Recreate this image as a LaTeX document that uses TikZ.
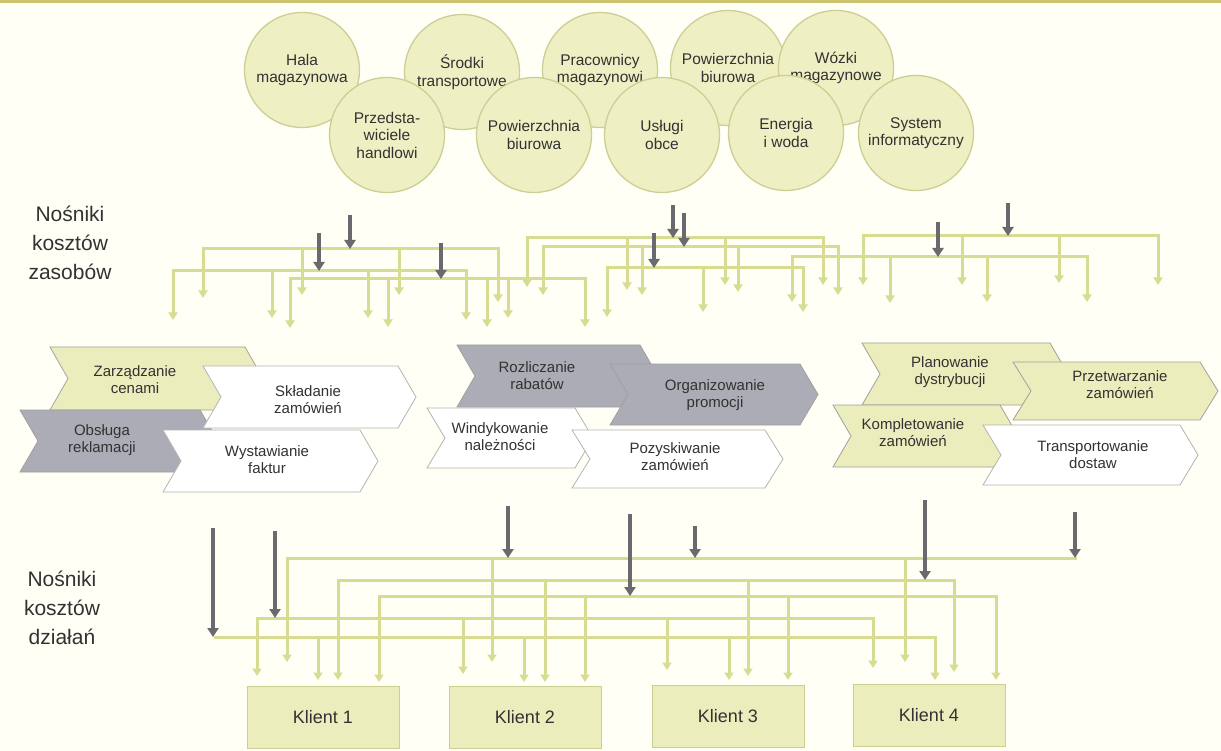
\documentclass[tikz,border=0pt]{standalone}
\usepackage{fontspec}
\setmainfont{Liberation Sans}
\usetikzlibrary{arrows.meta}
\definecolor{bg}{RGB}{255,255,246}
\definecolor{band}{RGB}{206,196,112}
\definecolor{circfill}{RGB}{238,240,196}
\definecolor{circdraw}{RGB}{204,206,146}
\definecolor{yfill}{RGB}{236,237,188}
\definecolor{gfill}{RGB}{172,172,182}
\definecolor{edge}{RGB}{160,160,160}
\definecolor{feedc}{RGB}{216,220,146}
\definecolor{darkc}{RGB}{105,105,110}
\definecolor{txt}{RGB}{50,50,50}
\tikzset{
 res/.style={circle, minimum size=115pt, inner sep=0pt, fill=circfill, draw=circdraw, line width=1.3pt, align=center, text=txt, font=\fontsize{15.5}{17.5}\selectfont},
 ctext/.style={align=center, text=txt, font=\fontsize{15}{17}\selectfont, inner sep=0pt},
 chy/.style={fill=yfill, draw=edge, line width=0.8pt},
 chg/.style={fill=gfill, draw=edge, line width=0.8pt},
 chw/.style={fill=white, draw=edge!80, line width=0.8pt},
 bus/.style={draw=feedc, line width=3pt, line cap=rect},
 feed/.style={draw=feedc, line width=3pt, -{Triangle[width=9pt,length=7.5pt]}},
 driver/.style={draw=darkc, line width=4pt, -{Triangle[width=11pt,length=9pt]}},
 client/.style={fill=yfill, draw=circdraw, line width=1pt, minimum width=152pt, minimum height=62pt, text=txt, font=\fontsize{18}{20}\selectfont},
 side/.style={align=center, text=txt, font=\fontsize{21}{29}\selectfont},
}
\newcommand\chev[9]{%
 \path[#6] (#2,#4) -- (#3,#4) -- ({#3+18},{(#4+#5)/2}) -- (#3,#5) -- (#2,#5) -- ({#2+18},{(#4+#5)/2}) -- cycle;
 \node[ctext] (#1) at (#8,#9) {#7};}
\newcommand\busline[4]{%
 \coordinate (#1-a) at (#3,#2); \coordinate (#1-b) at (#4,#2); \draw[bus] (#1-a) -- (#1-b);}
\newcommand\dropto[4]{%
 \coordinate (#1-s) at (#2,#3); \coordinate (#1-t) at (#2,#4); \draw[feed] (#1-s) -- (#1-t);}
\newcommand\drv[4]{%
 \coordinate (#1-s) at (#2,#3); \coordinate (#1-t) at (#2,#4); \draw[driver] (#1-s) -- (#1-t);}
\begin{document}
\begin{tikzpicture}[x=1pt,y=-1pt]
\useasboundingbox (0,0) rectangle (1221,751);
\fill[bg] (0,0) rectangle (1221,751);
\fill[band] (0,0) rectangle (1221,3);

% resources, top row
\node[res] (c1) at (302,70) {Hala\\magazynowa};
\node[res] (c2) at (462,72) {Środki\\transportowe};
\node[res] (c3) at (600,70) {Pracownicy\\magazynowi};
\node[res] (c4) at (728,68) {Powierzchnia\\biurowa};
\node[res] (c5) at (836,68) {Wózki\\magazynowe};
% resources, bottom row
\node[res] (c6) at (387,135) {Przedsta-\\wiciele\\handlowi};
\node[res] (c7) at (534,135) {Powierzchnia\\biurowa};
\node[res] (c8) at (662,135) {Usługi\\obce};
\node[res] (c9) at (786,133) {Energia\\i woda};
\node[res] (c10) at (916,133) {System\\informatyczny};

% side labels
\node[side] (lab1) at (70,243) {Nośniki\\kosztów\\zasobów};
\node[side] (lab2) at (62,608) {Nośniki\\kosztów\\działań};

% upper network
\busline{La}{249}{203}{498}
\foreach \x/\e [count=\i] in {203/298,302/295,399/295,498/302} {\dropto{La\i}{\x}{249}{\e}}
\busline{Lb}{271}{173}{466}
\foreach \x/\e [count=\i] in {173/320,272/318,368/318,466/320} {\dropto{Lb\i}{\x}{271}{\e}}
\busline{Lc}{279}{290}{585}
\foreach \x/\e [count=\i] in {290/328,388/327,487/327,508/318,585/327} {\dropto{Lc\i}{\x}{279}{\e}}
\busline{Ma}{238}{527}{823}
\foreach \x/\e [count=\i] in {527/287,627/290,725/285,823/285} {\dropto{Ma\i}{\x}{238}{\e}}
\busline{Mb}{247}{543}{838}
\foreach \x/\e [count=\i] in {543/295,642/295,738/292,838/295} {\dropto{Mb\i}{\x}{247}{\e}}
\busline{Mc}{268}{607}{803}
\foreach \x/\e [count=\i] in {607/317,703/312,803/312} {\dropto{Mc\i}{\x}{268}{\e}}
\busline{Ra}{236}{863}{1158}
\foreach \x/\e [count=\i] in {863/285,962/285,1059/283,1158/285} {\dropto{Ra\i}{\x}{236}{\e}}
\busline{Rb}{257}{792}{1087}
\foreach \x/\e [count=\i] in {792/302,890/303,987/302,1087/302} {\dropto{Rb\i}{\x}{257}{\e}}
% resource drivers
\drv{dA}{350}{215}{249}
\drv{dB}{319}{233}{271}
\drv{dC}{441}{243}{279}
\drv{dD}{673}{205}{238}
\drv{dE}{684}{213}{247}
\drv{dF}{654}{233}{268}
\drv{dG}{1008}{203}{236}
\drv{dH}{938}{222}{257}

% activities, left group
\chev{a1}{50}{245}{347}{410}{chy}{Zarządzanie\\cenami}{135}{380}
\chev{a2}{20}{200}{410}{472}{chg}{Obsługa\\reklamacji}{102}{440}
\chev{a3}{203}{398}{366}{428}{chw}{Składanie\\zamówień}{308}{400}
\chev{a4}{163}{360}{430}{492}{chw}{Wystawianie\\faktur}{267}{460}
% middle group
\chev{a5}{457}{640}{345}{407}{chg}{Rozliczanie\\rabatów}{537}{376}
\chev{a6}{427}{575}{408}{468}{chw}{Windykowanie\\należności}{500}{437}
\chev{a7}{610}{800}{364}{425}{chg}{Organizowanie\\promocji}{715}{395}
\chev{a8}{572}{765}{430}{488}{chw}{Pozyskiwanie\\zamówień}{675}{457}
% right group
\chev{a9}{862}{1050}{343}{405}{chy}{Planowanie\\dystrybucji}{950}{372}
\chev{a10}{833}{1000}{405}{467}{chy}{Kompletowanie\\zamówień}{913}{433}
\chev{a11}{1013}{1200}{362}{420}{chy}{Przetwarzanie\\zamówień}{1120}{385}
\chev{a12}{983}{1180}{425}{485}{chw}{Transportowanie\\dostaw}{1093}{455}

% lower network
\busline{Ba}{558}{287}{1075}
\foreach \x/\e [count=\i] in {287/662,492/662,905/662} {\dropto{Ba\i}{\x}{558}{\e}}
\busline{Bb}{580}{338}{954}
\foreach \x/\e [count=\i] in {338/680,545/682,748/676,954/672} {\dropto{Bb\i}{\x}{580}{\e}}
\busline{Bc}{596}{379}{996}
\foreach \x/\e [count=\i] in {379/682,585/682,788/680,996/680} {\dropto{Bc\i}{\x}{596}{\e}}
\busline{Bd}{618}{257}{873}
\foreach \x/\e [count=\i] in {257/676,463/674,667/670,873/668} {\dropto{Bd\i}{\x}{618}{\e}}
\busline{Be}{637}{215}{935}
\foreach \x/\e [count=\i] in {318/680,524/682,729/680,935/680} {\dropto{Be\i}{\x}{637}{\e}}
% activity drivers
\drv{eA}{213}{528}{637}
\drv{eB}{275}{531}{618}
\drv{eC}{508}{506}{558}
\drv{eD}{630}{514}{596}
\drv{eE}{695}{526}{558}
\drv{eF}{925}{500}{580}
\drv{eG}{1075}{512}{558}

% clients
\node[client] (k1) at (323,717) {Klient 1};
\node[client] (k2) at (525,717) {Klient 2};
\node[client] (k3) at (728,716) {Klient 3};
\node[client] (k4) at (929,715) {Klient 4};
\end{tikzpicture}
\end{document}
